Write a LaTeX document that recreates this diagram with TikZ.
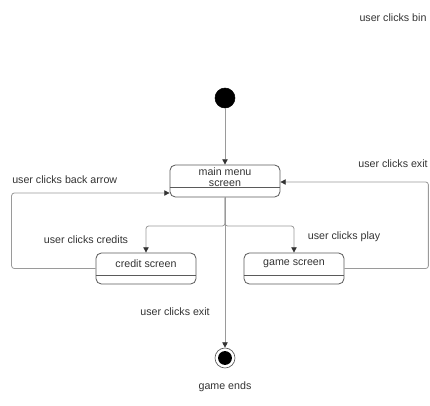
\documentclass[tikz,border=0pt]{standalone}
\usepackage{fontspec}
\setmainfont{Liberation Sans}
\usetikzlibrary{arrows.meta,positioning,calc}
\definecolor{txtgray}{HTML}{333333}
\definecolor{boxgray}{HTML}{5A5A5A}
\definecolor{linegray}{HTML}{9A9A9A}

\begin{document}
\begin{tikzpicture}[
  x=0.75pt, y=-0.75pt,
  font=\fontsize{8pt}{8.25pt}\selectfont,
  every node/.style={text=txtgray},
  initial/.style={circle, fill=black, draw=black, minimum size=15pt, inner sep=0pt},
  final/.style={circle, draw=boxgray, line width=0.5pt, minimum size=15pt, inner sep=0pt,
                path picture={\fill[black] (path picture bounding box.center) circle (5.2pt);}},
  state/.style={draw=boxgray, line width=0.6pt, rounded corners=4pt, inner sep=0pt},
  mainstate/.style={state, minimum width=82.5pt, minimum height=24pt},
  substate/.style={state, minimum width=75pt, minimum height=23.25pt},
  statetext/.style={align=center, inner sep=0pt, anchor=north},
  divider/.style={draw=boxgray, line width=0.5pt},
  flow/.style={draw=linegray, line width=0.6pt, rounded corners=2pt,
               -{Triangle[width=4pt,length=4pt,color=txtgray]}},
  lbl/.style={inner sep=0pt}
]
\useasboundingbox (0,0) rectangle (430,405);

% ===== states =====
\node[initial] (start) at (225,98) {};
\node[mainstate] (main) at (225,181) {};
\node[statetext, below=2pt of main.north] (maintxt) {main menu\\screen};
\node[substate] (credit) at (146,268.5) {};
\node[statetext, below=5pt of credit.north] (credittxt) {credit screen};
\node[substate] (game) at (294,268.5) {};
\node[statetext, below=5pt of game.north] (gametxt) {game screen};
\node[final] (end) at (225,358) {};

% state dividers
\draw[divider] ($(main.south west)+(0,-10)$) -- ($(main.south east)+(0,-10)$);
\draw[divider] ($(credit.south west)+(0,-9)$) -- ($(credit.south east)+(0,-9)$);
\draw[divider] ($(game.south west)+(0,-9)$) -- ($(game.south east)+(0,-9)$);

% ===== transitions =====
\coordinate (split) at (225,226);
\draw[flow] (start) -- (main);
\draw[flow] (main.south) -- (split) -| (credit.north);
\draw[flow] (main.south) -- (split) -| (game.north);
\draw[flow] (main.south) -- (end);
\draw[flow] (credit.west) -- ++(-84,0) |- ($(main.west)+(0,12)$);
\draw[flow] (game.east) -- ++(84,0) |- ($(main.east)+(0,1)$);

% ===== labels =====
\node[lbl] (binlbl) at (393,18) {user clicks bin};
\node[lbl, anchor=west] (backlbl) at (12,180) {user clicks back arrow};
\node[lbl] (creditlbl) at (86,240) {user clicks credits};
\node[lbl] (playlbl) at (344,237) {user clicks play};
\node[lbl] (gameexitlbl) at (393,164) {user clicks exit};
\node[lbl] (exitlbl) at (175,312) {user clicks exit};
\node[lbl] (endlbl) at (225,387) {game ends};

\end{tikzpicture}
\end{document}
